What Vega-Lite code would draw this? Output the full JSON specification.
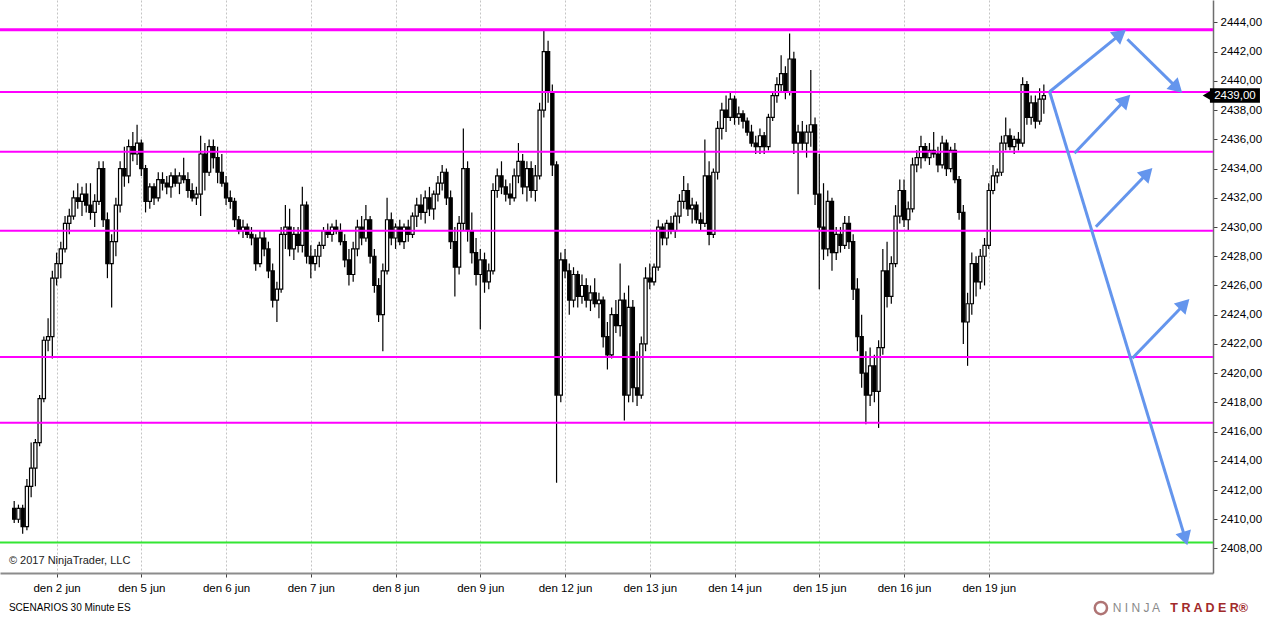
{
  "$schema": "https://vega.github.io/schema/vega-lite/v6.json",
  "width": 1213,
  "height": 573,
  "autosize": {"type": "none"},
  "padding": {"left": 0, "top": 0, "right": 51, "bottom": 44},
  "background": "white",
  "config": {"view": {"stroke": null}, "font": "Liberation Sans", "axis": {"labelOverlap": false}},
  "datasets": {
    "bars": [
      {"t":-0.50,"o":2410.75,"h":2411.25,"l":2409.75,"c":2410.0},
      {"t":-0.45,"o":2410.0,"h":2411.0,"l":2409.75,"c":2410.75},
      {"t":-0.40,"o":2410.75,"h":2411.0,"l":2409.0,"c":2409.5},
      {"t":-0.35,"o":2409.5,"h":2412.75,"l":2409.25,"c":2412.25},
      {"t":-0.30,"o":2412.25,"h":2415.25,"l":2411.5,"c":2413.5},
      {"t":-0.25,"o":2413.5,"h":2415.5,"l":2412.25,"c":2415.25},
      {"t":-0.20,"o":2415.25,"h":2418.5,"l":2415.0,"c":2418.25},
      {"t":-0.15,"o":2418.25,"h":2422.5,"l":2418.0,"c":2422.25},
      {"t":-0.10,"o":2422.25,"h":2423.75,"l":2421.5,"c":2422.5},
      {"t":-0.05,"o":2422.5,"h":2427.0,"l":2421.0,"c":2426.5},
      {"t":0.00,"o":2426.5,"h":2428.25,"l":2426.0,"c":2427.5},
      {"t":0.05,"o":2427.5,"h":2429.0,"l":2426.5,"c":2428.5},
      {"t":0.10,"o":2428.5,"h":2430.75,"l":2428.25,"c":2430.25},
      {"t":0.15,"o":2430.25,"h":2431.25,"l":2429.5,"c":2430.75},
      {"t":0.20,"o":2430.75,"h":2432.5,"l":2430.5,"c":2432.0},
      {"t":0.25,"o":2432.0,"h":2433.0,"l":2431.25,"c":2431.75},
      {"t":0.30,"o":2431.75,"h":2432.75,"l":2430.75,"c":2432.25},
      {"t":0.35,"o":2432.25,"h":2433.0,"l":2431.0,"c":2431.5},
      {"t":0.40,"o":2431.5,"h":2433.0,"l":2430.5,"c":2431.0},
      {"t":0.45,"o":2431.0,"h":2432.25,"l":2430.0,"c":2431.75},
      {"t":0.50,"o":2431.75,"h":2434.5,"l":2431.5,"c":2434.0},
      {"t":0.55,"o":2434.0,"h":2434.5,"l":2430.0,"c":2430.5},
      {"t":0.60,"o":2430.5,"h":2431.0,"l":2426.5,"c":2427.5},
      {"t":0.65,"o":2427.5,"h":2429.5,"l":2424.5,"c":2429.0},
      {"t":0.70,"o":2429.0,"h":2432.0,"l":2428.0,"c":2431.5},
      {"t":0.75,"o":2431.5,"h":2434.5,"l":2431.0,"c":2434.0},
      {"t":0.80,"o":2434.0,"h":2435.5,"l":2432.75,"c":2433.5},
      {"t":0.85,"o":2433.5,"h":2436.0,"l":2433.0,"c":2435.5},
      {"t":0.90,"o":2435.5,"h":2436.5,"l":2434.5,"c":2435.0},
      {"t":0.95,"o":2435.0,"h":2437.0,"l":2434.25,"c":2435.75},
      {"t":1.00,"o":2435.75,"h":2436.0,"l":2433.5,"c":2434.0},
      {"t":1.05,"o":2434.0,"h":2434.25,"l":2431.0,"c":2431.75},
      {"t":1.10,"o":2431.75,"h":2433.0,"l":2431.25,"c":2432.75},
      {"t":1.15,"o":2432.75,"h":2433.0,"l":2431.5,"c":2432.0},
      {"t":1.20,"o":2432.0,"h":2433.75,"l":2431.75,"c":2433.25},
      {"t":1.25,"o":2433.25,"h":2433.75,"l":2432.5,"c":2433.0},
      {"t":1.30,"o":2433.0,"h":2433.5,"l":2432.25,"c":2432.75},
      {"t":1.35,"o":2432.75,"h":2433.75,"l":2432.0,"c":2433.5},
      {"t":1.40,"o":2433.5,"h":2434.0,"l":2432.75,"c":2433.0},
      {"t":1.45,"o":2433.0,"h":2433.75,"l":2432.25,"c":2433.5},
      {"t":1.50,"o":2433.5,"h":2434.75,"l":2433.0,"c":2433.25},
      {"t":1.55,"o":2433.25,"h":2433.75,"l":2432.0,"c":2432.5},
      {"t":1.60,"o":2432.5,"h":2433.0,"l":2431.75,"c":2432.0},
      {"t":1.65,"o":2432.0,"h":2432.75,"l":2431.5,"c":2432.25},
      {"t":1.70,"o":2432.25,"h":2436.25,"l":2430.75,"c":2435.0},
      {"t":1.75,"o":2435.0,"h":2435.75,"l":2432.5,"c":2433.75},
      {"t":1.80,"o":2433.75,"h":2436.0,"l":2433.5,"c":2435.5},
      {"t":1.85,"o":2435.5,"h":2436.0,"l":2434.0,"c":2434.75},
      {"t":1.90,"o":2434.75,"h":2435.5,"l":2433.0,"c":2433.75},
      {"t":1.95,"o":2433.75,"h":2435.0,"l":2432.75,"c":2433.0},
      {"t":2.00,"o":2433.0,"h":2433.5,"l":2431.5,"c":2432.0},
      {"t":2.05,"o":2432.0,"h":2432.5,"l":2431.25,"c":2431.75},
      {"t":2.10,"o":2431.75,"h":2432.0,"l":2430.0,"c":2430.5},
      {"t":2.15,"o":2430.5,"h":2430.75,"l":2429.5,"c":2429.75},
      {"t":2.20,"o":2429.75,"h":2430.5,"l":2429.25,"c":2430.0},
      {"t":2.25,"o":2430.0,"h":2430.25,"l":2429.25,"c":2429.5},
      {"t":2.30,"o":2429.5,"h":2430.0,"l":2428.75,"c":2429.25},
      {"t":2.35,"o":2429.25,"h":2429.5,"l":2427.0,"c":2427.5},
      {"t":2.40,"o":2427.5,"h":2429.75,"l":2427.25,"c":2429.25},
      {"t":2.45,"o":2429.25,"h":2429.75,"l":2428.0,"c":2428.5},
      {"t":2.50,"o":2428.5,"h":2429.0,"l":2426.5,"c":2427.0},
      {"t":2.55,"o":2427.0,"h":2427.5,"l":2424.5,"c":2425.0},
      {"t":2.60,"o":2425.0,"h":2426.25,"l":2423.5,"c":2425.75},
      {"t":2.65,"o":2425.75,"h":2430.0,"l":2425.5,"c":2429.5},
      {"t":2.70,"o":2429.5,"h":2431.5,"l":2428.5,"c":2430.0},
      {"t":2.75,"o":2430.0,"h":2431.25,"l":2428.0,"c":2428.5},
      {"t":2.80,"o":2428.5,"h":2430.0,"l":2427.75,"c":2429.5},
      {"t":2.85,"o":2429.5,"h":2430.0,"l":2428.25,"c":2428.75},
      {"t":2.90,"o":2428.75,"h":2432.75,"l":2428.25,"c":2431.5},
      {"t":2.95,"o":2431.5,"h":2431.75,"l":2427.5,"c":2428.0},
      {"t":3.00,"o":2428.0,"h":2428.75,"l":2426.5,"c":2427.5},
      {"t":3.05,"o":2427.5,"h":2428.5,"l":2427.0,"c":2428.0},
      {"t":3.10,"o":2428.0,"h":2429.0,"l":2427.25,"c":2428.75},
      {"t":3.15,"o":2428.75,"h":2430.0,"l":2428.5,"c":2429.75},
      {"t":3.20,"o":2429.75,"h":2430.25,"l":2429.25,"c":2429.5},
      {"t":3.25,"o":2429.5,"h":2430.25,"l":2429.0,"c":2430.0},
      {"t":3.30,"o":2430.0,"h":2430.5,"l":2429.5,"c":2429.75},
      {"t":3.35,"o":2429.75,"h":2430.25,"l":2428.75,"c":2429.0},
      {"t":3.40,"o":2429.0,"h":2429.5,"l":2427.25,"c":2427.75},
      {"t":3.45,"o":2427.75,"h":2428.5,"l":2426.0,"c":2426.75},
      {"t":3.50,"o":2426.75,"h":2429.0,"l":2426.25,"c":2428.5},
      {"t":3.55,"o":2428.5,"h":2430.5,"l":2428.0,"c":2430.0},
      {"t":3.60,"o":2430.0,"h":2430.75,"l":2428.75,"c":2429.25},
      {"t":3.65,"o":2429.25,"h":2431.5,"l":2429.0,"c":2430.5},
      {"t":3.70,"o":2430.5,"h":2430.75,"l":2427.5,"c":2428.0},
      {"t":3.75,"o":2428.0,"h":2428.5,"l":2425.5,"c":2426.0},
      {"t":3.80,"o":2426.0,"h":2426.5,"l":2423.5,"c":2424.0},
      {"t":3.85,"o":2424.0,"h":2427.5,"l":2421.5,"c":2427.0},
      {"t":3.90,"o":2427.0,"h":2432.0,"l":2426.75,"c":2430.5},
      {"t":3.95,"o":2430.5,"h":2431.0,"l":2428.75,"c":2429.25},
      {"t":4.00,"o":2429.25,"h":2430.25,"l":2428.5,"c":2430.0},
      {"t":4.05,"o":2430.0,"h":2430.5,"l":2428.75,"c":2429.0},
      {"t":4.10,"o":2429.0,"h":2430.25,"l":2428.5,"c":2430.0},
      {"t":4.15,"o":2430.0,"h":2430.5,"l":2429.0,"c":2429.5},
      {"t":4.20,"o":2429.5,"h":2431.0,"l":2429.25,"c":2430.75},
      {"t":4.25,"o":2430.75,"h":2432.0,"l":2430.0,"c":2431.5},
      {"t":4.30,"o":2431.5,"h":2432.25,"l":2430.5,"c":2431.0},
      {"t":4.35,"o":2431.0,"h":2432.5,"l":2430.25,"c":2432.0},
      {"t":4.40,"o":2432.0,"h":2432.75,"l":2430.75,"c":2431.25},
      {"t":4.45,"o":2431.25,"h":2432.5,"l":2430.5,"c":2432.25},
      {"t":4.50,"o":2432.25,"h":2433.5,"l":2431.75,"c":2433.0},
      {"t":4.55,"o":2433.0,"h":2434.25,"l":2432.5,"c":2433.75},
      {"t":4.60,"o":2433.75,"h":2434.0,"l":2431.5,"c":2432.0},
      {"t":4.65,"o":2432.0,"h":2432.5,"l":2428.5,"c":2429.0},
      {"t":4.70,"o":2429.0,"h":2430.0,"l":2425.25,"c":2427.25},
      {"t":4.75,"o":2427.25,"h":2430.75,"l":2426.75,"c":2430.25},
      {"t":4.80,"o":2430.25,"h":2436.75,"l":2429.75,"c":2434.0},
      {"t":4.85,"o":2434.0,"h":2434.5,"l":2429.0,"c":2429.75},
      {"t":4.90,"o":2429.75,"h":2431.0,"l":2427.5,"c":2428.25},
      {"t":4.95,"o":2428.25,"h":2429.25,"l":2426.0,"c":2426.75},
      {"t":5.00,"o":2426.75,"h":2428.5,"l":2423.0,"c":2427.75},
      {"t":5.05,"o":2427.75,"h":2428.25,"l":2425.5,"c":2426.25},
      {"t":5.10,"o":2426.25,"h":2427.5,"l":2425.75,"c":2427.0},
      {"t":5.15,"o":2427.0,"h":2433.0,"l":2426.75,"c":2432.5},
      {"t":5.20,"o":2432.5,"h":2434.0,"l":2432.0,"c":2433.5},
      {"t":5.25,"o":2433.5,"h":2434.5,"l":2432.25,"c":2432.75},
      {"t":5.30,"o":2432.75,"h":2433.25,"l":2431.75,"c":2432.25},
      {"t":5.35,"o":2432.25,"h":2433.0,"l":2431.5,"c":2432.0},
      {"t":5.40,"o":2432.0,"h":2434.0,"l":2431.75,"c":2433.5},
      {"t":5.45,"o":2433.5,"h":2435.75,"l":2433.0,"c":2434.5},
      {"t":5.50,"o":2434.5,"h":2435.0,"l":2432.25,"c":2432.75},
      {"t":5.55,"o":2432.75,"h":2434.5,"l":2431.75,"c":2434.0},
      {"t":5.60,"o":2434.0,"h":2434.5,"l":2432.0,"c":2432.5},
      {"t":5.65,"o":2432.5,"h":2434.25,"l":2431.75,"c":2433.5},
      {"t":5.70,"o":2433.5,"h":2438.5,"l":2433.25,"c":2438.0},
      {"t":5.75,"o":2438.0,"h":2443.5,"l":2437.5,"c":2442.0},
      {"t":5.80,"o":2442.0,"h":2442.75,"l":2438.5,"c":2439.25},
      {"t":5.85,"o":2439.25,"h":2439.75,"l":2433.5,"c":2434.25},
      {"t":5.90,"o":2434.25,"h":2434.5,"l":2412.5,"c":2418.5},
      {"t":5.95,"o":2418.5,"h":2428.25,"l":2418.0,"c":2427.75},
      {"t":6.00,"o":2427.75,"h":2428.5,"l":2426.5,"c":2427.0},
      {"t":6.05,"o":2427.0,"h":2427.5,"l":2424.0,"c":2425.0},
      {"t":6.10,"o":2425.0,"h":2427.25,"l":2424.5,"c":2426.75},
      {"t":6.15,"o":2426.75,"h":2427.0,"l":2424.5,"c":2425.25},
      {"t":6.20,"o":2425.25,"h":2426.75,"l":2424.75,"c":2426.0},
      {"t":6.25,"o":2426.0,"h":2426.5,"l":2424.5,"c":2425.0},
      {"t":6.30,"o":2425.0,"h":2426.0,"l":2424.25,"c":2425.5},
      {"t":6.35,"o":2425.5,"h":2426.5,"l":2424.5,"c":2424.75},
      {"t":6.40,"o":2424.75,"h":2425.5,"l":2423.75,"c":2425.0},
      {"t":6.45,"o":2425.0,"h":2425.25,"l":2421.75,"c":2422.5},
      {"t":6.50,"o":2422.5,"h":2423.5,"l":2420.25,"c":2421.25},
      {"t":6.55,"o":2421.25,"h":2424.5,"l":2421.0,"c":2424.0},
      {"t":6.60,"o":2424.0,"h":2425.0,"l":2422.75,"c":2423.25},
      {"t":6.65,"o":2423.25,"h":2427.5,"l":2422.5,"c":2425.0},
      {"t":6.70,"o":2425.0,"h":2425.5,"l":2416.75,"c":2418.5},
      {"t":6.75,"o":2418.5,"h":2426.0,"l":2418.0,"c":2424.5},
      {"t":6.80,"o":2424.5,"h":2425.0,"l":2418.0,"c":2419.0},
      {"t":6.85,"o":2419.0,"h":2421.5,"l":2417.75,"c":2418.5},
      {"t":6.90,"o":2418.5,"h":2422.5,"l":2418.25,"c":2422.0},
      {"t":6.95,"o":2422.0,"h":2427.25,"l":2421.5,"c":2426.5},
      {"t":7.00,"o":2426.5,"h":2427.5,"l":2425.75,"c":2426.25},
      {"t":7.05,"o":2426.25,"h":2427.5,"l":2426.0,"c":2427.25},
      {"t":7.10,"o":2427.25,"h":2430.5,"l":2427.0,"c":2430.0},
      {"t":7.15,"o":2430.0,"h":2430.25,"l":2428.75,"c":2429.25},
      {"t":7.20,"o":2429.25,"h":2430.5,"l":2428.75,"c":2430.25},
      {"t":7.25,"o":2430.25,"h":2430.75,"l":2429.5,"c":2429.75},
      {"t":7.30,"o":2429.75,"h":2431.0,"l":2429.25,"c":2430.75},
      {"t":7.35,"o":2430.75,"h":2432.25,"l":2430.25,"c":2431.75},
      {"t":7.40,"o":2431.75,"h":2433.5,"l":2431.25,"c":2432.5},
      {"t":7.45,"o":2432.5,"h":2433.0,"l":2430.75,"c":2431.25},
      {"t":7.50,"o":2431.25,"h":2432.0,"l":2430.25,"c":2431.5},
      {"t":7.55,"o":2431.5,"h":2431.75,"l":2430.25,"c":2430.5},
      {"t":7.60,"o":2430.5,"h":2431.0,"l":2429.75,"c":2430.25},
      {"t":7.65,"o":2430.25,"h":2436.0,"l":2430.0,"c":2433.5},
      {"t":7.70,"o":2433.5,"h":2434.5,"l":2428.75,"c":2429.5},
      {"t":7.75,"o":2429.5,"h":2434.0,"l":2429.25,"c":2433.75},
      {"t":7.80,"o":2433.75,"h":2437.25,"l":2433.25,"c":2436.75},
      {"t":7.85,"o":2436.75,"h":2438.5,"l":2436.0,"c":2438.0},
      {"t":7.90,"o":2438.0,"h":2439.0,"l":2436.5,"c":2437.5},
      {"t":7.95,"o":2437.5,"h":2439.25,"l":2437.25,"c":2438.75},
      {"t":8.00,"o":2438.75,"h":2439.0,"l":2437.0,"c":2437.5},
      {"t":8.05,"o":2437.5,"h":2438.25,"l":2437.0,"c":2437.75},
      {"t":8.10,"o":2437.75,"h":2438.0,"l":2436.75,"c":2437.25},
      {"t":8.15,"o":2437.25,"h":2437.5,"l":2436.25,"c":2436.5},
      {"t":8.20,"o":2436.5,"h":2437.0,"l":2435.5,"c":2435.75},
      {"t":8.25,"o":2435.75,"h":2436.25,"l":2435.0,"c":2435.5},
      {"t":8.30,"o":2435.5,"h":2436.75,"l":2435.0,"c":2436.25},
      {"t":8.35,"o":2436.25,"h":2436.5,"l":2435.0,"c":2435.5},
      {"t":8.40,"o":2435.5,"h":2437.75,"l":2435.25,"c":2437.5},
      {"t":8.45,"o":2437.5,"h":2439.25,"l":2437.25,"c":2439.0},
      {"t":8.50,"o":2439.0,"h":2440.25,"l":2438.5,"c":2439.75},
      {"t":8.55,"o":2439.75,"h":2441.75,"l":2439.25,"c":2440.5},
      {"t":8.60,"o":2440.5,"h":2441.0,"l":2438.75,"c":2439.25},
      {"t":8.65,"o":2439.25,"h":2443.25,"l":2439.0,"c":2441.5},
      {"t":8.70,"o":2441.5,"h":2442.0,"l":2435.0,"c":2435.75},
      {"t":8.75,"o":2435.75,"h":2437.0,"l":2432.25,"c":2436.5},
      {"t":8.80,"o":2436.5,"h":2437.25,"l":2435.25,"c":2435.75},
      {"t":8.85,"o":2435.75,"h":2437.0,"l":2434.75,"c":2436.5},
      {"t":8.90,"o":2436.5,"h":2440.75,"l":2435.5,"c":2437.0},
      {"t":8.95,"o":2437.0,"h":2437.5,"l":2431.5,"c":2432.25},
      {"t":9.00,"o":2432.25,"h":2435.0,"l":2425.75,"c":2430.0},
      {"t":9.05,"o":2430.0,"h":2433.0,"l":2427.75,"c":2428.5},
      {"t":9.10,"o":2428.5,"h":2432.5,"l":2428.0,"c":2431.75},
      {"t":9.15,"o":2431.75,"h":2432.0,"l":2427.0,"c":2428.25},
      {"t":9.20,"o":2428.25,"h":2430.0,"l":2427.75,"c":2429.5},
      {"t":9.25,"o":2429.5,"h":2430.0,"l":2428.25,"c":2428.75},
      {"t":9.30,"o":2428.75,"h":2430.75,"l":2428.5,"c":2430.25},
      {"t":9.35,"o":2430.25,"h":2430.75,"l":2428.5,"c":2429.0},
      {"t":9.40,"o":2429.0,"h":2429.5,"l":2425.0,"c":2425.75},
      {"t":9.45,"o":2425.75,"h":2426.5,"l":2421.5,"c":2422.5},
      {"t":9.50,"o":2422.5,"h":2424.0,"l":2419.0,"c":2420.0},
      {"t":9.55,"o":2420.0,"h":2421.5,"l":2416.5,"c":2418.5},
      {"t":9.60,"o":2418.5,"h":2421.75,"l":2417.75,"c":2420.5},
      {"t":9.65,"o":2420.5,"h":2421.25,"l":2418.0,"c":2418.75},
      {"t":9.70,"o":2418.75,"h":2422.25,"l":2416.25,"c":2421.75},
      {"t":9.75,"o":2421.75,"h":2428.5,"l":2421.25,"c":2427.0},
      {"t":9.80,"o":2427.0,"h":2429.0,"l":2424.5,"c":2425.25},
      {"t":9.85,"o":2425.25,"h":2428.0,"l":2424.75,"c":2427.5},
      {"t":9.90,"o":2427.5,"h":2431.5,"l":2427.25,"c":2430.75},
      {"t":9.95,"o":2430.75,"h":2433.25,"l":2430.25,"c":2432.5},
      {"t":10.00,"o":2432.5,"h":2433.25,"l":2430.0,"c":2430.5},
      {"t":10.05,"o":2430.5,"h":2431.75,"l":2429.75,"c":2431.25},
      {"t":10.10,"o":2431.25,"h":2434.75,"l":2431.0,"c":2434.25},
      {"t":10.15,"o":2434.25,"h":2435.25,"l":2433.75,"c":2434.75},
      {"t":10.20,"o":2434.75,"h":2436.25,"l":2434.0,"c":2435.5},
      {"t":10.25,"o":2435.5,"h":2435.75,"l":2434.5,"c":2434.75},
      {"t":10.30,"o":2434.75,"h":2435.75,"l":2434.25,"c":2435.25},
      {"t":10.35,"o":2435.25,"h":2436.5,"l":2434.75,"c":2435.0},
      {"t":10.40,"o":2435.0,"h":2435.5,"l":2433.75,"c":2434.25},
      {"t":10.45,"o":2434.25,"h":2436.25,"l":2434.0,"c":2435.75},
      {"t":10.50,"o":2435.75,"h":2436.0,"l":2433.5,"c":2434.0},
      {"t":10.55,"o":2434.0,"h":2435.5,"l":2433.75,"c":2435.25},
      {"t":10.60,"o":2435.25,"h":2435.75,"l":2433.0,"c":2433.25},
      {"t":10.65,"o":2433.25,"h":2433.5,"l":2430.5,"c":2431.0},
      {"t":10.70,"o":2431.0,"h":2431.5,"l":2422.0,"c":2423.5},
      {"t":10.75,"o":2423.5,"h":2425.5,"l":2420.5,"c":2424.75},
      {"t":10.80,"o":2424.75,"h":2428.25,"l":2424.0,"c":2427.5},
      {"t":10.85,"o":2427.5,"h":2428.0,"l":2425.25,"c":2426.25},
      {"t":10.90,"o":2426.25,"h":2428.5,"l":2425.75,"c":2428.0},
      {"t":10.95,"o":2428.0,"h":2429.25,"l":2426.0,"c":2428.75},
      {"t":11.00,"o":2428.75,"h":2433.0,"l":2428.5,"c":2432.5},
      {"t":11.05,"o":2432.5,"h":2434.25,"l":2432.25,"c":2433.5},
      {"t":11.10,"o":2433.5,"h":2434.0,"l":2433.0,"c":2433.75},
      {"t":11.15,"o":2433.75,"h":2436.25,"l":2433.5,"c":2435.75},
      {"t":11.20,"o":2435.75,"h":2437.5,"l":2435.25,"c":2436.25},
      {"t":11.25,"o":2436.25,"h":2436.75,"l":2435.25,"c":2435.5},
      {"t":11.30,"o":2435.5,"h":2436.25,"l":2435.0,"c":2436.0},
      {"t":11.35,"o":2436.0,"h":2436.5,"l":2435.25,"c":2435.75},
      {"t":11.40,"o":2435.75,"h":2440.25,"l":2435.5,"c":2439.75},
      {"t":11.45,"o":2439.75,"h":2440.0,"l":2437.0,"c":2437.5},
      {"t":11.50,"o":2437.5,"h":2439.0,"l":2437.0,"c":2438.5},
      {"t":11.55,"o":2438.5,"h":2439.0,"l":2436.75,"c":2437.25},
      {"t":11.60,"o":2437.25,"h":2439.5,"l":2437.0,"c":2438.75},
      {"t":11.65,"o":2438.75,"h":2439.75,"l":2437.75,"c":2439.0}
    ],
    "levels": [
      {"price": 2443.5, "kind": "major"},
      {"price": 2439.25, "kind": "minor"},
      {"price": 2435.15, "kind": "minor"},
      {"price": 2429.75, "kind": "minor"},
      {"price": 2421.1, "kind": "minor"},
      {"price": 2416.6, "kind": "minor"}
    ],
    "support": [{"price": 2408.4}],
    "arrows": [
      {"t": 11.718, "v": 2439.26, "t2": 12.533, "v2": 2443.10, "heading": 51},
      {"t": 12.636, "v": 2442.85, "t2": 13.203, "v2": 2439.63, "heading": 134},
      {"t": 11.718, "v": 2439.26, "t2": 13.311, "v2": 2408.83, "heading": 163},
      {"t": 12.011, "v": 2435.05, "t2": 12.593, "v2": 2438.59, "heading": 44},
      {"t": 12.264, "v": 2430.02, "t2": 12.854, "v2": 2433.58, "heading": 44},
      {"t": 12.694, "v": 2421.02, "t2": 13.291, "v2": 2424.61, "heading": 44}
    ],
    "last": [{"price": 2439.0, "label": "2439,00"}]
  },
  "layer": [
    {
      "data": {"name": "bars"},
      "mark": {"type": "rule", "color": "#000000", "strokeWidth": 1.2},
      "encoding": {
        "x": {
          "field": "t", "type": "quantitative",
          "scale": {"domain": [-0.6085, 13.587], "nice": false, "zero": false},
          "axis": {
            "title": null, "orient": "bottom",
            "values": [0, 1, 2, 3, 4, 5, 6, 7, 8, 9, 10, 11],
            "tickCount": 40,
            "labelExpr": "['den 2 jun','den 5 jun','den 6 jun','den 7 jun','den 8 jun','den 9 jun','den 12 jun','den 13 jun','den 14 jun','den 15 jun','den 16 jun','den 19 jun'][datum.value]",
            "labelOverlap": false,
            "grid": true, "gridColor": "#c4c4c4", "gridDash": [2, 2], "gridWidth": 1,
            "domainColor": "#8c8c8c", "domainWidth": 2,
            "tickColor": "#444444", "tickSize": 4,
            "labelFontSize": 11.5, "labelColor": "#000000", "labelPadding": 5
          }
        },
        "y": {
          "field": "l", "type": "quantitative",
          "scale": {"domain": [2406.32, 2445.54], "nice": false, "zero": false},
          "axis": {
            "title": null, "orient": "right",
            "values": [2408, 2410, 2412, 2414, 2416, 2418, 2420, 2422, 2424, 2426, 2428, 2430, 2432, 2434, 2436, 2438, 2440, 2442, 2444],
            "tickCount": 40,
            "labelExpr": "replace(format(datum.value, '.2f'), '.', ',')",
            "labelOverlap": false,
            "grid": false,
            "domainColor": "#6e6e6e", "domainWidth": 1.5,
            "tickColor": "#444444", "tickSize": 4,
            "labelFontSize": 11.5, "labelColor": "#000000", "labelPadding": 3
          }
        },
        "y2": {"field": "h"}
      }
    },
    {
      "data": {"name": "bars"},
      "mark": {"type": "bar", "width": 3.2, "stroke": "#000000", "strokeWidth": 1.2},
      "encoding": {
        "x": {"field": "t", "type": "quantitative", "title": null},
        "y": {"field": "o", "type": "quantitative", "title": null},
        "y2": {"field": "c"},
        "fill": {"condition": {"test": "datum.c < datum.o", "value": "#000000"}, "value": "#ffffff"}
      }
    },
    {
      "data": {"name": "levels"},
      "mark": {"type": "rule", "color": "#ff00ff"},
      "encoding": {
        "y": {"field": "price", "type": "quantitative", "title": null},
        "strokeWidth": {"field": "kind", "type": "nominal", "scale": {"domain": ["major", "minor"], "range": [3, 2]}, "legend": null}
      }
    },
    {
      "data": {"name": "support"},
      "mark": {"type": "rule", "color": "#33e633", "strokeWidth": 2},
      "encoding": {"y": {"field": "price", "type": "quantitative", "title": null}}
    },
    {
      "data": {"name": "arrows"},
      "mark": {"type": "rule", "color": "#6495ed", "strokeWidth": 3},
      "encoding": {
        "x": {"field": "t", "type": "quantitative", "title": null},
        "y": {"field": "v", "type": "quantitative", "title": null},
        "x2": {"field": "t2"},
        "y2": {"field": "v2"}
      }
    },
    {
      "data": {"name": "arrows"},
      "mark": {"type": "point", "shape": "triangle", "filled": true, "color": "#6495ed", "opacity": 1, "size": 260},
      "encoding": {
        "x": {"field": "t2", "type": "quantitative", "title": null},
        "y": {"field": "v2", "type": "quantitative", "title": null},
        "angle": {"field": "heading", "type": "quantitative", "scale": null}
      }
    },
    {
      "data": {"name": "last"},
      "mark": {"type": "rect", "color": "#000000"},
      "encoding": {
        "x": {"datum": 13.61, "type": "quantitative"},
        "x2": {"datum": 14.2},
        "y": {"datum": 2438.5, "type": "quantitative"},
        "y2": {"datum": 2439.5}
      }
    },
    {
      "data": {"name": "last"},
      "mark": {"type": "point", "shape": "triangle-left", "filled": true, "color": "#000000", "opacity": 1, "size": 80},
      "encoding": {
        "x": {"datum": 13.57, "type": "quantitative"},
        "y": {"field": "price", "type": "quantitative", "title": null}
      }
    },
    {
      "data": {"name": "last"},
      "mark": {"type": "text", "color": "#ffffff", "fontSize": 11.5, "align": "left", "baseline": "middle"},
      "encoding": {
        "x": {"datum": 13.66, "type": "quantitative"},
        "y": {"field": "price", "type": "quantitative", "title": null},
        "text": {"field": "label"}
      }
    },
    {
      "data": {"values": [{"label": "© 2017 NinjaTrader, LLC"}]},
      "mark": {"type": "text", "color": "#222222", "fontSize": 11, "align": "left", "baseline": "middle"},
      "encoding": {
        "x": {"datum": -0.562, "type": "quantitative"},
        "y": {"datum": 2407.14, "type": "quantitative"},
        "text": {"field": "label"}
      }
    },
    {
      "data": {"values": [{"label": "SCENARIOS 30 Minute ES"}]},
      "mark": {"type": "text", "color": "#000000", "fontSize": 10, "align": "left", "baseline": "middle"},
      "encoding": {
        "x": {"datum": -0.562, "type": "quantitative"},
        "y": {"datum": 2403.92, "type": "quantitative"},
        "text": {"field": "label"}
      }
    },
    {
      "data": {"values": [{"label": "N I N J A"}]},
      "mark": {"type": "text", "color": "#8a8a8a", "fontSize": 12, "align": "left", "baseline": "middle"},
      "encoding": {
        "x": {"datum": 12.463, "type": "quantitative"},
        "y": {"datum": 2403.92, "type": "quantitative"},
        "text": {"field": "label"}
      }
    },
    {
      "data": {"values": [{"label": "T R A D E R®"}]},
      "mark": {"type": "text", "color": "#a12a2a", "fontSize": 12.5, "fontWeight": "bold", "align": "left", "baseline": "middle"},
      "encoding": {
        "x": {"datum": 13.142, "type": "quantitative"},
        "y": {"datum": 2403.92, "type": "quantitative"},
        "text": {"field": "label"}
      }
    },
    {
      "data": {"values": [{"label": "logo"}]},
      "mark": {"type": "point", "shape": "circle", "filled": false, "stroke": "#8e3a3a", "strokeWidth": 2.5, "size": 150},
      "encoding": {
        "x": {"datum": 12.323, "type": "quantitative"},
        "y": {"datum": 2403.92, "type": "quantitative"}
      }
    }
  ]
}
